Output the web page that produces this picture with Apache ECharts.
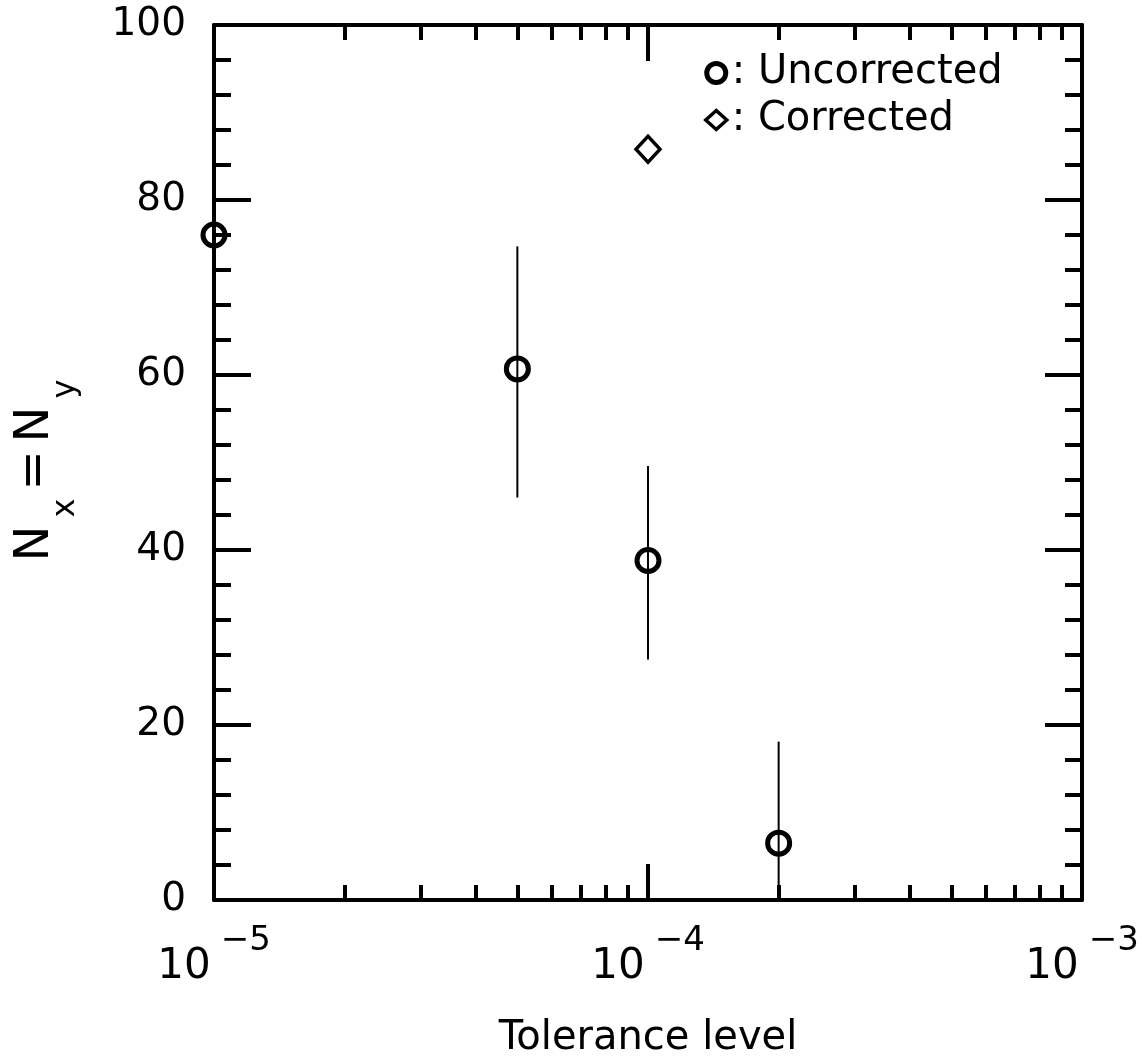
<!DOCTYPE html>
<html>
<head>
<meta charset="utf-8">
<script src="https://cdn.jsdelivr.net/npm/echarts@6/dist/echarts.min.js"></script>
<style>
  html, body { margin: 0; padding: 0; background: #fff; }
  #chart { width: 1142px; height: 1059px; }
</style>
</head>
<body>
<div id="chart"></div>
<script>
// uncorrected points, with error bar ends
var tolUncorr = [1e-5, 5e-5, 1e-4, 2e-4];
var nUncorr = [76, 60.7, 38.8, 6.5];
var errLow = [null, 46, 27.5, 0];
var errHigh = [null, 74.7, 49.6, 18.1];
// corrected point
var tolCorr = [1e-4];
var nCorr = [85.8];
// axes
var xExponents = [-5, -4, -3];
var xMinorTicks = [2e-5, 3e-5, 4e-5, 5e-5, 6e-5, 7e-5, 8e-5, 9e-5,
                   2e-4, 3e-4, 4e-4, 5e-4, 6e-4, 7e-4, 8e-4, 9e-4];
var yTicks = [0, 20, 40, 60, 80, 100];

var FONT = 'DejaVu Sans';

var scatterUncorr = tolUncorr.map(function (t, i) { return [t, nUncorr[i]]; });
var scatterCorr = tolCorr.map(function (t, i) { return [t, nCorr[i]]; });
var errData = [];
for (var i = 0; i < tolUncorr.length; i++) {
    if (errLow[i] != null) errData.push([tolUncorr[i], errLow[i], errHigh[i]]);
}

function xLabel(v) {
    var e = Math.round(Math.log10(v));
    if (xExponents.indexOf(e) < 0) return '';
    return '{b|10}{s|' + (e < 0 ? '\u2212' + (-e) : e) + '}';
}

function logAxis(pos, major, withLabel) {
    return {
        type: 'log',
        logBase: 10,
        position: pos,
        min: 1e-5,
        max: 1e-3,
        axisLine: { show: major, onZero: false, lineStyle: { color: '#000', width: 4 } },
        axisTick: major
            ? { show: true, inside: true, length: 36, lineStyle: { color: '#000', width: 4 } }
            : { show: true, inside: true, length: 15, customValues: xMinorTicks, lineStyle: { color: '#000', width: 4 } },
        axisLabel: withLabel ? {
            show: true,
            margin: 24,
            formatter: xLabel,
            rich: {
                b: { fontFamily: FONT, fontSize: 42, color: '#000', lineHeight: 64, verticalAlign: 'bottom' },
                s: { fontFamily: FONT, fontSize: 34, color: '#000', lineHeight: 34, verticalAlign: 'top', padding: [0, 0, 0, 10] }
            }
        } : { show: false },
        splitLine: { show: false },
        minorTick: { show: false },
        minorSplitLine: { show: false }
    };
}

function valueAxis(pos, withLabel) {
    return {
        type: 'value',
        position: pos,
        min: 0,
        max: 100,
        interval: 20,
        axisLine: { show: true, onZero: false, lineStyle: { color: '#000', width: 4 } },
        axisTick: { show: true, inside: true, length: 37, lineStyle: { color: '#000', width: 4 } },
        minorTick: { show: true, splitNumber: 5, length: 17, lineStyle: { color: '#000', width: 4 } },
        splitLine: { show: false },
        axisLabel: withLabel ? {
            show: true, margin: 28, fontFamily: FONT, fontSize: 39, color: '#000',
            formatter: function (v) { return yTicks.indexOf(v) >= 0 ? String(v) : ''; }
        } : { show: false }
    };
}

var xMain = logAxis('bottom', true, true);
xMain.name = 'Tolerance level';
xMain.nameLocation = 'middle';
xMain.nameGap = 119;
xMain.nameTextStyle = { fontFamily: FONT, fontSize: 40, color: '#000' };

var yMain = valueAxis('left', true);
yMain.name = '{n|N}{s|x}{n|=}{n|N}{s|y}';
yMain.nameLocation = 'middle';
yMain.nameRotate = 90;
yMain.nameGap = 132;
yMain.nameTextStyle = {
    color: '#000',
    padding: [0, 16, 0, 0],
    rich: {
        n: { fontFamily: FONT, fontSize: 48, color: '#000', lineHeight: 70, verticalAlign: 'top', padding: [0, 4, 0, 4] },
        s: { fontFamily: FONT, fontSize: 32, color: '#000', lineHeight: 32, verticalAlign: 'bottom', padding: [0, 4, 0, 4] }
    }
};

var myChart = echarts.init(document.getElementById('chart'));
var option = {
    backgroundColor: '#fff',
    animation: false,
    grid: { left: 214, right: 60, top: 25, bottom: 159, outerBoundsMode: 'none', containLabel: false },
    legend: {
        orient: 'vertical',
        left: 699,
        top: 48,
        itemGap: 7,
        itemWidth: 21,
        itemHeight: 19,
        formatter: ': {name}',
        textStyle: { fontFamily: FONT, fontSize: 40, color: '#000' },
        data: [
            { name: 'Uncorrected', icon: 'circle',
              itemStyle: { color: 'rgba(0,0,0,0)', borderColor: '#000', borderWidth: 5 } },
            { name: 'Corrected', icon: 'diamond',
              itemStyle: { color: 'rgba(0,0,0,0)', borderColor: '#000', borderWidth: 3.5 } }
        ]
    },
    xAxis: [
        xMain,
        logAxis('bottom', false, false),
        logAxis('top', true, false),
        logAxis('top', false, false)
    ],
    yAxis: [
        yMain,
        valueAxis('right', false)
    ],
    series: [
        {
            name: 'errorbars',
            type: 'custom',
            xAxisIndex: 0,
            yAxisIndex: 0,
            data: errData,
            encode: { x: 0, y: [1, 2] },
            renderItem: function (params, api) {
                var p1 = api.coord([api.value(0), api.value(1)]);
                var p2 = api.coord([api.value(0), api.value(2)]);
                return {
                    type: 'line',
                    shape: { x1: p1[0], y1: p1[1], x2: p2[0], y2: p2[1] },
                    style: { stroke: '#000', lineWidth: 2 }
                };
            },
            z: 3
        },
        {
            name: 'Uncorrected',
            type: 'scatter',
            xAxisIndex: 0,
            yAxisIndex: 0,
            symbol: 'circle',
            symbolSize: 22,
            itemStyle: { color: 'rgba(0,0,0,0)', borderColor: '#000', borderWidth: 5, opacity: 1 },
            data: scatterUncorr,
            clip: false,
            z: 4
        },
        {
            name: 'Corrected',
            type: 'scatter',
            xAxisIndex: 0,
            yAxisIndex: 0,
            symbol: 'diamond',
            symbolSize: [24, 26],
            itemStyle: { color: 'rgba(0,0,0,0)', borderColor: '#000', borderWidth: 3.5, opacity: 1 },
            data: scatterCorr,
            z: 4
        }
    ]
};
myChart.setOption(option);
</script>
</body>
</html>
